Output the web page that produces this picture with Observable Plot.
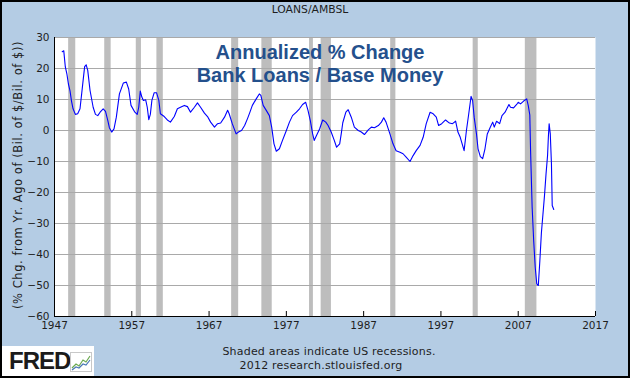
<!DOCTYPE html>
<html>
<head>
<meta charset="utf-8">
<script src="https://cdn.jsdelivr.net/npm/d3@7"></script>
<script src="https://cdn.jsdelivr.net/npm/@observablehq/plot@0.6"></script>
<style>
  html, body { margin: 0; padding: 0; background: #b4cce4; }
  #wrap {
    position: relative; width: 630px; height: 378px; overflow: hidden;
    background: #b4cce4; box-shadow: inset 0 0 0 2px #000;
    font-family: "DejaVu Sans", Verdana, sans-serif; color: #1e1e1e;
  }
  #chart { position: absolute; left: 0; top: 0; }
  .t { position: absolute; font-size: 10.5px; white-space: nowrap; text-align: center; }
  #title { left: 0; width: 630px; top: 3px; margin-left: -5px; font-size: 10.8px; }
  #ylab { left: -182px; width: 400px; top: 168px; transform: rotate(-90deg); font-size: 11.5px; letter-spacing: 0.55px; }
  #foot1 { left: 0; width: 630px; top: 345px; margin-left: 14px; font-size: 11px; letter-spacing: 0.2px; }
  #foot2 { left: 0; width: 630px; top: 359px; margin-left: 6px; font-size: 11px; letter-spacing: 0.2px; }
  #logo { position: absolute; left: 2px; top: 346px; width: 92px; height: 30px; background: #fff; }
  #logo span { position: absolute; left: 7px; top: 1px; font: bold 24px "Liberation Sans", Arial, sans-serif; color: #1b1b1b; letter-spacing: -1px; }
  #logo svg { position: absolute; left: 68px; top: 6px; }
</style>
</head>
<body>
<div id="wrap">
  <div id="chart"></div>
  <div class="t" id="title">LOANS/AMBSL</div>
  <div class="t" id="ylab">(% Chg. from Yr. Ago of (Bil. of $/Bil. of $))</div>
  <div class="t" id="foot1">Shaded areas indicate US recessions.</div>
  <div class="t" id="foot2">2012 research.stlouisfed.org</div>
  <div id="logo"><span>FRED</span>
    <svg width="22" height="20" viewBox="0 0 22 20">
      <rect x="0.5" y="0.5" width="21" height="19" fill="#fff" stroke="#c8c8c8"/>
      <path d="M2 16 L6 12 L9 14 L13 8 L16 10 L20 4" fill="none" stroke="#6aa84f" stroke-width="1.2"/>
      <path d="M2 18 L6 15 L9 16 L13 12 L16 13 L20 8" fill="none" stroke="#4a78b5" stroke-width="1.2"/>
    </svg>
  </div>
</div>
<script>
// Year-over-year % change of LOANS/AMBSL
const years = [
  1948.0, 1948.2, 1948.4, 1948.6, 1948.8, 1949.0, 1949.2, 1949.4, 1949.7, 1950.0,
  1950.3, 1950.5, 1950.7, 1950.9, 1951.1, 1951.3, 1951.6, 1952.0, 1952.3, 1952.6,
  1952.9, 1953.3, 1953.6, 1953.9, 1954.1, 1954.4, 1954.7, 1955.0, 1955.4, 1955.9,
  1956.3, 1956.6, 1956.9, 1957.4, 1957.7, 1957.9, 1958.1, 1958.3, 1958.5, 1958.8,
  1959.0, 1959.2, 1959.4, 1959.6, 1959.9, 1960.2, 1960.5, 1960.7, 1961.2, 1961.6,
  1962.0, 1962.5, 1962.9, 1963.3, 1963.8, 1964.2, 1964.6, 1965.1, 1965.5, 1965.9,
  1966.4, 1966.8, 1967.2, 1967.7, 1968.1, 1968.5, 1969.0, 1969.4, 1969.6, 1970.0,
  1970.5, 1970.8, 1971.2, 1971.6, 1972.0, 1972.3, 1972.6, 1973.1, 1973.5, 1973.7,
  1974.0, 1974.4, 1974.8, 1975.1, 1975.4, 1975.7, 1976.1, 1976.5, 1977.0, 1977.4,
  1977.8, 1978.3, 1978.7, 1979.1, 1979.5, 1979.8, 1980.1, 1980.4, 1980.6, 1980.9,
  1981.3, 1981.7, 1982.1, 1982.4, 1982.8, 1983.2, 1983.5, 1983.9, 1984.1, 1984.3,
  1984.7, 1985.0, 1985.4, 1985.8, 1986.3, 1986.7, 1987.1, 1987.6, 1988.0, 1988.4,
  1988.9, 1989.3, 1989.6, 1989.9, 1990.4, 1990.8, 1991.2, 1991.7, 1992.1, 1992.5,
  1993.0, 1993.4, 1993.8, 1994.3, 1994.7, 1995.1, 1995.6, 1996.0, 1996.4, 1996.7,
  1997.1, 1997.6, 1998.1, 1998.5, 1998.9, 1999.2, 1999.5, 2000.0, 2000.3, 2000.6,
  2000.9, 2001.1, 2001.3, 2001.6, 2001.8, 2002.1, 2002.4, 2002.7, 2003.0, 2003.4,
  2003.7, 2003.9, 2004.2, 2004.6, 2004.9, 2005.3, 2005.8, 2006.0, 2006.4, 2006.8,
  2007.0, 2007.3, 2007.7, 2008.1, 2008.3, 2008.5, 2008.6, 2008.8, 2009.0, 2009.2,
  2009.4, 2009.6, 2009.8, 2010.0, 2010.2, 2010.4, 2010.6, 2010.8, 2010.9, 2011.0,
  2011.15, 2011.3, 2011.4, 2011.6
];
const values = [
  25.4, 25.7, 20.5, 18.3, 15.0, 12.9, 9.5, 7.0, 5.2, 5.4,
  7.0, 11.5, 16.1, 20.6, 21.2, 19.4, 12.9, 7.5, 5.2, 4.8,
  5.9, 7.0, 6.2, 3.2, 0.9, -0.5, 0.5, 4.3, 11.8, 15.3,
  15.6, 13.4, 8.1, 5.9, 5.2, 7.5, 12.7, 10.8, 9.7, 9.9,
  7.5, 3.5, 5.2, 9.7, 12.2, 12.2, 9.7, 5.4, 4.5, 3.4,
  2.7, 4.5, 7.0, 7.5, 8.1, 7.7, 5.9, 7.5, 8.9, 7.5,
  5.6, 4.5, 2.7, 1.1, 2.2, 2.4, 4.3, 6.5, 5.4, 2.2,
  -1.1, -0.5, 0.0, 1.6, 4.0, 6.0, 8.1, 10.2, 11.8, 11.3,
  8.1, 6.5, 4.8, 1.1, -4.3, -6.7, -5.9, -3.2, 0.0, 2.7,
  4.8, 5.9, 7.0, 8.4, 9.1, 6.5, 3.2, -1.1, -3.2, -1.6,
  0.5, 3.4, 2.7, 1.6, -0.5, -3.2, -5.4, -4.3, -1.1, 2.5,
  5.9, 6.7, 4.3, 1.1, 0.0, -0.5, -1.3, 0.2, 1.1, 0.9,
  1.6, 2.7, 4.1, 2.7, -1.1, -4.3, -6.5, -7.0, -7.5, -8.6,
  -10.0, -8.1, -6.5, -4.8, -2.2, 2.2, 5.9, 5.4, 4.3, 1.6,
  2.2, 3.4, 2.4, 2.2, 3.0, -0.5, -2.2, -6.5, 0.0, 5.4,
  11.0, 9.7, 4.3, -1.1, -5.9, -8.4, -9.1, -5.9, -1.1, 1.1,
  2.7, 1.1, 3.0, 2.2, 4.8, 5.9, 8.4, 7.5, 7.3, 8.4,
  9.1, 8.6, 9.5, 10.2, 8.0, 5.0, -6.5, -24.7, -35.5, -44.1,
  -49.5, -50.0, -42.0, -33.0, -27.0, -21.0, -14.0, -8.0, -2.2, 2.2,
  -1.1, -10.8, -24.2, -25.5
];

// NBER recessions (peak to trough, decimal years)
const recStart = [1948.83, 1953.50, 1957.58, 1960.25, 1969.92, 1973.83, 1980.00, 1981.50, 1990.50, 2001.17, 2007.92];
const recEnd   = [1949.75, 1954.33, 1958.25, 1961.08, 1970.83, 1975.17, 1980.50, 1982.83, 1991.17, 2001.83, 2009.42];

const xTicks = [1947, 1957, 1967, 1977, 1987, 1997, 2007, 2017];
const yTicks = [30, 20, 10, 0, -10, -20, -30, -40, -50, -60];
const annotation = ["Annualized % Change\nBank Loans / Base Money"];

const series = years.map((y, i) => ({year: y, value: values[i]}));
const recessions = recStart.map((s, i) => ({start: s, end: recEnd[i]}));

const chart = Plot.plot({
  width: 630,
  height: 340,
  marginLeft: 54,
  marginRight: 35,
  marginTop: 37,
  marginBottom: 24,
  style: {background: "transparent", fontFamily: "DejaVu Sans, Verdana, sans-serif", fontSize: "10.5px", color: "#1e1e1e", overflow: "visible"},
  x: {domain: [1947, 2017]},
  y: {domain: [-60, 30]},
  marks: [
    Plot.frame({fill: "white", stroke: null}),
    Plot.rect(recessions, {x1: "start", x2: "end", y1: -60, y2: 30, fill: "#bdbdbd"}),
    Plot.gridY(yTicks.filter(d => d > -60), {stroke: "#a9a9a9", strokeOpacity: 1, strokeWidth: 1}),
    Plot.line(series, {x: "year", y: "value", stroke: "#0000ff", strokeWidth: 1.1}),
    Plot.axisY(yTicks, {tickSize: 0, tickPadding: 5, label: null, fill: "#1e1e1e"}),
    Plot.axisX(xTicks, {tickSize: -5, tickPadding: 10, label: null, tickFormat: d => String(d), stroke: "#000", fill: "#1e1e1e"}),
    Plot.ruleY([-60], {stroke: "#000"}),
    Plot.ruleX([1947], {stroke: "#000"}),
    Plot.text(annotation, {
      frameAnchor: "top", lineAnchor: "top", dx: -5, dy: 5,
      fontFamily: "Liberation Sans, Arial, sans-serif", fontWeight: "bold",
      fontSize: 20, lineHeight: 1.165, fill: "#24508c"
    })
  ]
});
document.getElementById("chart").appendChild(chart);
</script>
</body>
</html>
